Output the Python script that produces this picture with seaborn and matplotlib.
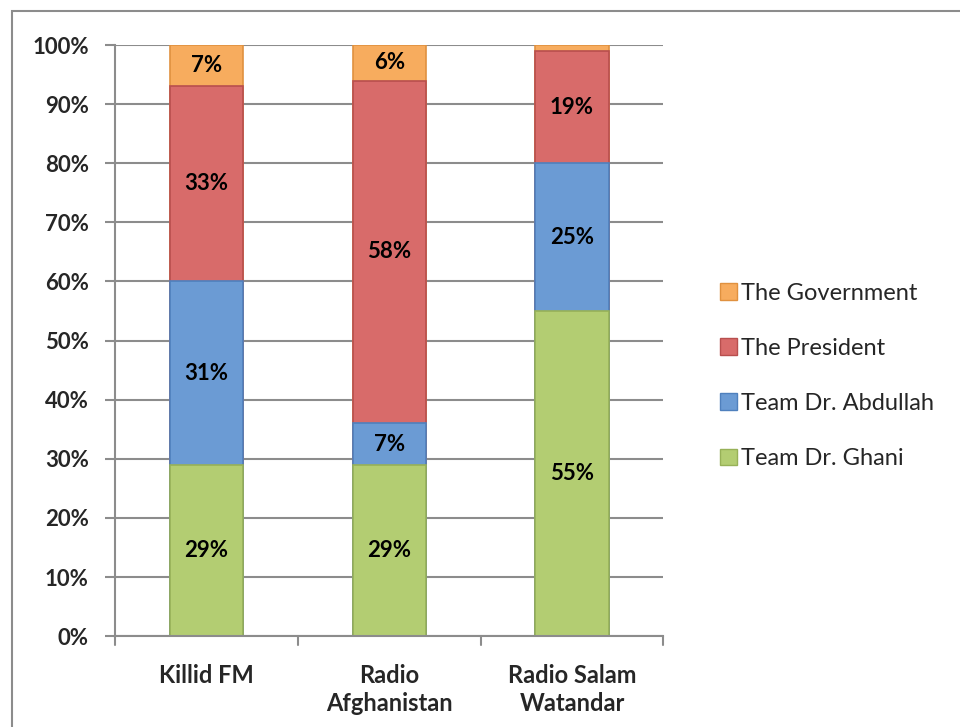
import numpy as np
import pandas as pd
import matplotlib.pyplot as plt
import seaborn as sns
from matplotlib.patches import Rectangle, Patch

stations = ["Killid FM", "Radio\nAfghanistan", "Radio Salam\nWatandar"]
series = ["Team Dr. Ghani", "Team Dr. Abdullah", "The President", "The Government"]
ghani = [29, 29, 55]
abdullah = [31, 7, 25]
president = [33, 58, 19]
government = [7, 6, 1]
colors = ["#B3CD72", "#6B9BD4", "#D86B6A", "#F7AC5E"]
edges = ["#97B158", "#4F80BD", "#B84F4E", "#E0913F"]

sns.set_style("white")
plt.rcParams["font.family"] = ["Lato", "DejaVu Sans"]

values = [ghani, abdullah, president, government]
df = pd.DataFrame({"station": stations})
for name, vals in zip(series, values):
    df[name] = vals
cum = df[series].cumsum(axis=1)
cum = cum.clip(upper=100)

fig = plt.figure(figsize=(9.6, 7.27), dpi=100)
ax = fig.add_axes([0.12, 0.125, 0.571, 0.813])

# draw cumulative totals from the top segment down so lower ones overlay
for i in reversed(range(len(series))):
    sns.barplot(x=df["station"], y=cum[series[i]], color=colors[i], width=0.4,
                edgecolor=edges[i], linewidth=1.2, saturation=1, ax=ax, zorder=2)

for j in range(len(stations)):
    bottom = 0
    for i, name in enumerate(series):
        v = df[name][j]
        if v >= 3:
            ax.text(j, bottom + v / 2, f"{v}%", ha="center", va="center",
                    fontsize=16, fontweight="bold", color="black", zorder=3)
        bottom += v

ax.set_ylim(0, 100)
ax.set_xlim(-0.5, 2.5)
ax.set_yticks(np.arange(0, 101, 10))
ax.set_yticklabels([f"{t}%" for t in range(0, 101, 10)], fontsize=16, fontweight="bold")
ax.set_xticks(range(3))
ax.set_xticklabels(stations, fontsize=17, fontweight="bold", linespacing=1.25)
ax.tick_params(axis="x", length=0, pad=20)
ax.tick_params(axis="y", left=True, length=7, width=1.5, color="#8c8c8c", pad=12)
ax.set_xlabel("")
ax.set_ylabel("")
ax.yaxis.grid(True, color="#8c8c8c", linewidth=1.5, zorder=0)
ax.set_axisbelow(True)
for s in ["top", "right"]:
    ax.spines[s].set_visible(False)
for s in ["left", "bottom"]:
    ax.spines[s].set_color("#8c8c8c")
    ax.spines[s].set_linewidth(1.5)
# category boundary ticks on the x axis
for xb in [-0.5, 0.5, 1.5, 2.5]:
    ax.plot([xb, xb], [0, -1.5], color="#8c8c8c", linewidth=1.5, clip_on=False)

handles = [Patch(facecolor=colors[i], edgecolor=edges[i], label=series[i])
           for i in reversed(range(len(series)))]
fig.legend(handles=handles, loc="center left", bbox_to_anchor=(0.728, 0.483),
           frameon=False, fontsize=17, handlelength=0.7, handleheight=0.7,
           handletextpad=0.2, labelspacing=1.45)

fig.patches.append(Rectangle((0.012, -0.05), 1.2, 1.035, transform=fig.transFigure,
                             fill=False, edgecolor="#8c8c8c", linewidth=1.5))

fig.savefig("out.png", dpi=100)
